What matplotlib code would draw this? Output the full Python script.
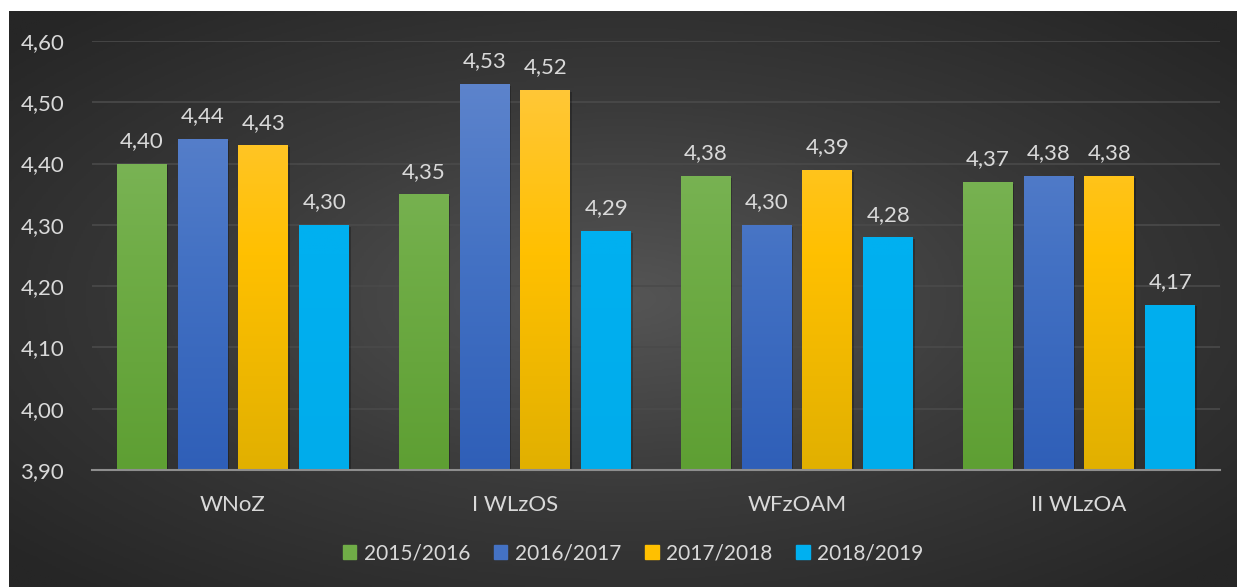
import matplotlib.pyplot as plt
import numpy as np
from matplotlib.colors import LinearSegmentedColormap
from matplotlib.patches import Rectangle

# dane
kategorie = ['WNoZ', 'I WLzOS', 'WFzOAM', 'II WLzOA']
lata = ['2015/2016', '2016/2017', '2017/2018', '2018/2019']
w_2015 = [4.40, 4.35, 4.38, 4.37]
w_2016 = [4.44, 4.53, 4.30, 4.38]
w_2017 = [4.43, 4.52, 4.39, 4.38]
w_2018 = [4.30, 4.29, 4.28, 4.17]
serie = [w_2015, w_2016, w_2017, w_2018]

# gradienty slupkow (gora -> dol)
gradienty = [
    ['#85bb66', '#70ad47', '#5e9f33'],
    ['#6388ce', '#4472c4', '#2f5fb8'],
    ['#ffc947', '#ffc000', '#e1b000'],
    ['#00b0f0', '#00b0f0', '#00aceb'],
]
kolory_legendy = ['#70ad47', '#4472c4', '#ffc000', '#00b0f0']

plt.rcParams['font.family'] = ['Lato', 'DejaVu Sans']
txt = '#d9d9d9'
fs = 16

fig = plt.figure(figsize=(12.37, 5.87), dpi=100)
fig.patch.set_facecolor('white')

# tlo z gradientem radialnym
bg = fig.add_axes([9 / 1237, 0, 1 - 9 / 1237, 1 - 11 / 587])
yy, xx = np.mgrid[-1:1:300j, -1:1:600j]
r = np.sqrt(xx ** 2 + yy ** 2)
bg_cmap = LinearSegmentedColormap.from_list('bg', ['#555555', '#3a3a3a', '#262626'])
bg.imshow(r, cmap=bg_cmap, aspect='auto', extent=[0, 1, 0, 1], vmin=0, vmax=1.35)
bg.set_axis_off()

ax = fig.add_axes([92 / 1237, 1 - 470 / 587, (1220 - 92) / 1237, (470 - 41) / 587])
ax.patch.set_alpha(0)

x = np.arange(len(kategorie))
szer = 0.177
krok = 0.216
for i, (wart, grad) in enumerate(zip(serie, gradienty)):
    pos = x + (i - 1.5) * krok
    bary = ax.bar(pos, [v - 3.9 for v in wart], szer, bottom=3.9, color=kolory_legendy[i],
                  label=lata[i], zorder=3)
    cmap = LinearSegmentedColormap.from_list('g%d' % i, grad[::-1])
    for b, v in zip(bary, wart):
        x0, y0 = b.get_x(), b.get_y()
        w, h = b.get_width(), b.get_height()
        # cien
        ax.add_patch(Rectangle((x0 + 0.006, y0), w, h - 0.003, color='black', alpha=0.25,
                               zorder=2, lw=0))
        # gradient pionowy na calej wysokosci osi
        g = np.linspace(0, 1, 256).reshape(-1, 1)
        im = ax.imshow(g, cmap=cmap, aspect='auto', origin='lower',
                       extent=[x0, x0 + w, 3.9, 4.6], zorder=4)
        im.set_clip_path(b)
        ax.annotate(f'{v:.2f}'.replace('.', ','), (x0 + w / 2, v), xytext=(0, 9),
                    textcoords='offset points', ha='center', va='bottom',
                    color=txt, fontsize=fs, zorder=5)

ax.set_xlim(-0.5, 3.5)
ax.set_ylim(3.9, 4.6)
ax.set_yticks(np.arange(3.9, 4.61, 0.1))
ax.set_yticklabels([f'{t:.2f}'.replace('.', ',') for t in np.arange(3.9, 4.61, 0.1)])
ax.set_xticks(x)
ax.set_xticklabels(kategorie)
ax.tick_params(axis='both', length=0, colors=txt, labelsize=fs)
ax.tick_params(axis='y', pad=20)
ax.tick_params(axis='x', pad=18)
ax.grid(axis='y', color='#4a4a4a', lw=1.2, zorder=1)
for s in ['top', 'right', 'left']:
    ax.spines[s].set_visible(False)
ax.spines['bottom'].set_color('#8e8e8e')
ax.spines['bottom'].set_linewidth(1.5)
ax.spines['bottom'].set_zorder(6)

uchwyty = [Rectangle((0, 0), 1, 1, color=c) for c in kolory_legendy]
leg = fig.legend(uchwyty, lata, loc='center', bbox_to_anchor=(633 / 1237, 1 - 553 / 587),
                 ncol=4, frameon=False, fontsize=15, handlelength=0.65, handleheight=0.65,
                 handletextpad=0.35, columnspacing=1.15, labelcolor=txt)

fig.savefig('out.png', dpi=100, facecolor=fig.get_facecolor())
